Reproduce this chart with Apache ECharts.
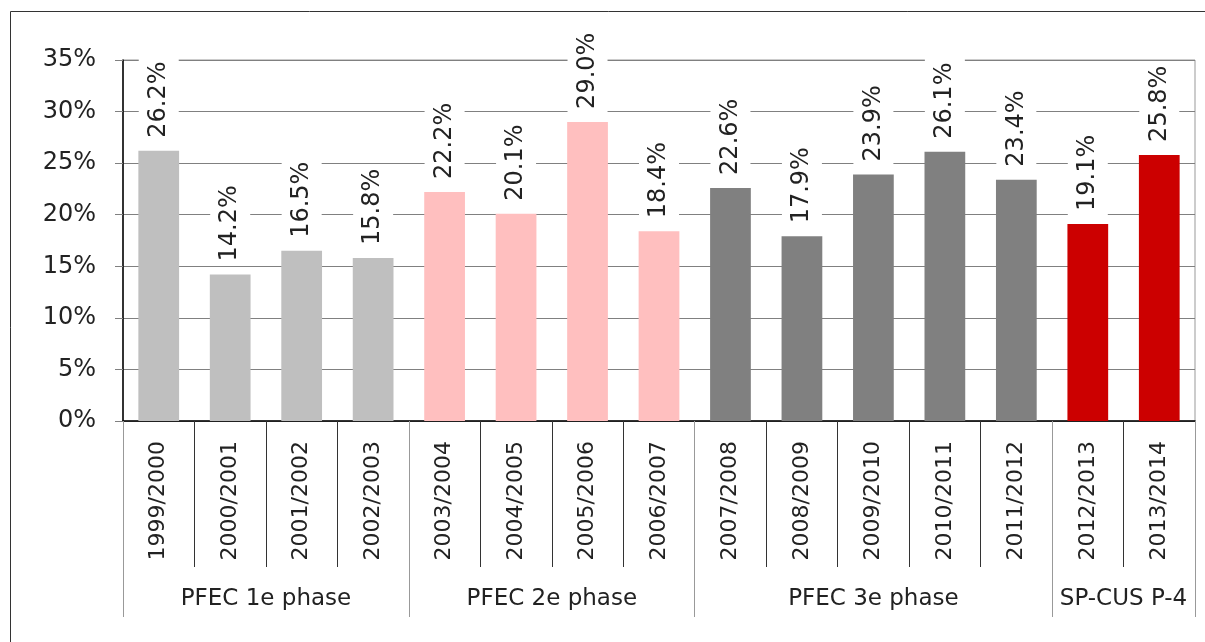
<!DOCTYPE html>
<html>
<head>
<meta charset="utf-8">
<script src="https://cdn.jsdelivr.net/npm/echarts@6/dist/echarts.min.js"></script>
<style>html,body{margin:0;padding:0;background:#fff}#c{width:1205px;height:642px}</style>
</head>
<body>
<div id="c"></div>
<script>
const categories = ['1999/2000','2000/2001','2001/2002','2002/2003','2003/2004','2004/2005','2005/2006','2006/2007','2007/2008','2008/2009','2009/2010','2010/2011','2011/2012','2012/2013','2013/2014'];
const values = [26.2,14.2,16.5,15.8,22.2,20.1,29.0,18.4,22.6,17.9,23.9,26.1,23.4,19.1,25.8];
const phaseNames = ['PFEC 1e phase','PFEC 2e phase','PFEC 3e phase','SP-CUS P-4'];
const phaseSizes = [4,4,5,2];
const yTicks = [0,5,10,15,20,25,30,35];

const phaseColors = ['#BFBFBF','#FFBFBF','#808080','#CC0000'];
const FONT = 'DejaVu Sans';
const TXT = '#222';

// group boundaries and centres in category units
const bounds = [0];
phaseSizes.forEach(s => bounds.push(bounds[bounds.length-1] + s));
const centres = phaseSizes.map((s,i) => bounds[i] + s/2);
const phaseOf = categories.map((c,idx) => { let k=0; while (idx >= bounds[k+1]) k++; return k; });

const chart = echarts.init(document.getElementById('c'));
chart.setOption({
  backgroundColor: '#fff',
  animation: false,
  graphic: [{
    type: 'rect', shape: {x: 10.5, y: 11.5, width: 1200, height: 640},
    style: {fill: 'none', stroke: '#333', lineWidth: 1}, silent: true
  }],
  grid: {left: 123, right: 10, top: 60, bottom: 221, show: true, borderColor: '#999', borderWidth: 1},
  xAxis: [{
    type: 'category', data: categories, gridIndex: 0,
    axisLine: {lineStyle: {color: '#000', width: 1.5}},
    axisTick: {show: true, interval: 0, length: 146, alignWithLabel: false, lineStyle: {color: '#333'}},
    axisLabel: {interval: 0, rotate: 90, margin: 20, fontFamily: FONT, fontSize: 22, color: TXT}
  }, {
    type: 'value', min: 0, max: categories.length, gridIndex: 0, position: 'bottom',
    axisLine: {show: false},
    splitLine: {show: false},
    axisTick: {show: true, customValues: bounds, length: 196, lineStyle: {color: '#999'}},
    axisLabel: {customValues: centres, margin: 167, fontFamily: FONT, fontSize: 23, color: TXT,
      formatter: v => { const i = centres.indexOf(v); return i >= 0 ? phaseNames[i] : ''; }}
  }],
  yAxis: {
    type: 'value', min: 0, max: 35, interval: 5,
    axisLine: {show: true, lineStyle: {color: '#000', width: 1.5}},
    axisTick: {show: true, length: 8, lineStyle: {color: '#808080'}},
    axisLabel: {margin: 27, fontFamily: FONT, fontSize: 24, color: TXT, formatter: '{value}%'},
    splitLine: {lineStyle: {color: '#808080', width: 1}}
  },
  series: [{
    type: 'bar', xAxisIndex: 0, yAxisIndex: 0, barWidth: '57%',
    data: values.map((v,i) => ({value: v, itemStyle: {color: phaseColors[phaseOf[i]]}})),
    label: {
      show: true, position: 'top', rotate: 90, align: 'left', verticalAlign: 'middle',
      distance: 9, fontFamily: FONT, fontSize: 24, color: TXT,
      backgroundColor: '#fff', padding: [8, 4],
      formatter: p => p.value.toFixed(1) + '%'
    }
  }]
});
</script>
</body>
</html>
